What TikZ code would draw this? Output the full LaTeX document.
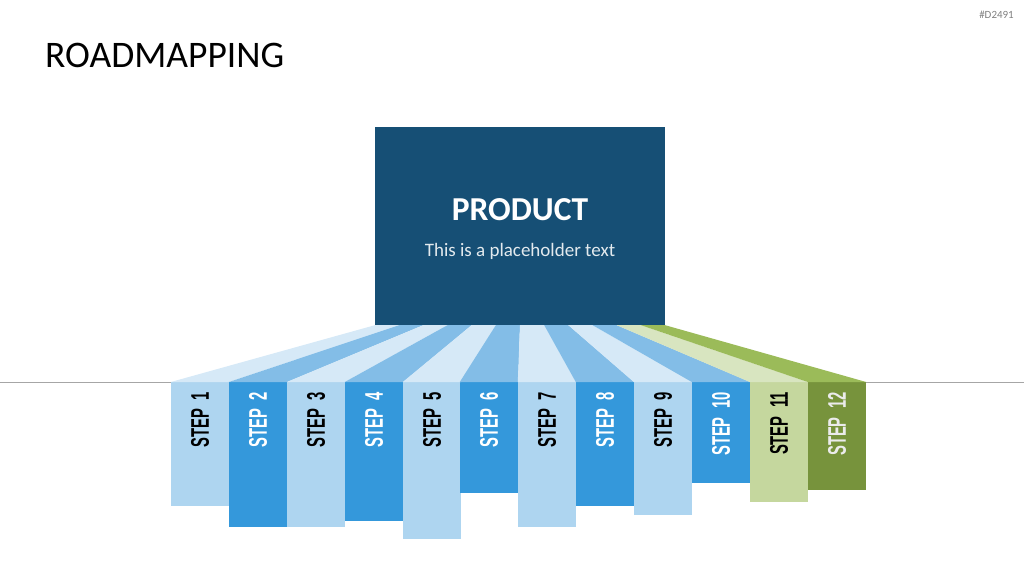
\documentclass[tikz,border=0pt]{standalone}
\usepackage{fontspec}
\setmainfont{Carlito}
\newfontfamily\stepfont[FakeStretch=0.58, WordSpace=0.55]{Liberation Sans}
\usetikzlibrary{calc}
\definecolor{prodBlue}{RGB}{22,79,117}
\definecolor{barLight}{RGB}{174,213,240}
\definecolor{barDark}{RGB}{52,152,219}
\definecolor{fanLight}{RGB}{214,233,247}
\definecolor{fanDark}{RGB}{131,189,231}
\definecolor{barGreenLight}{RGB}{197,215,158}
\definecolor{barGreenDark}{RGB}{119,147,60}
\definecolor{fanGreenLight}{RGB}{216,229,192}
\definecolor{fanGreenDark}{RGB}{155,187,89}
\tikzset{
  prodbox/.style={rectangle, fill=prodBlue, minimum width=290pt,
                  minimum height=198pt, inner sep=0pt},
  stepbar/.style={rectangle, rotate=90, anchor=east, minimum height=58pt,
                  inner xsep=10pt, inner ysep=0pt, align=right,
                  font=\stepfont\bfseries\fontsize{25.5}{25.5}\selectfont},
  steplight/.style={stepbar, fill=barLight, text=black},
  stepdark/.style={stepbar, fill=barDark, text=white},
  stepgreenlight/.style={stepbar, fill=barGreenLight, text=black},
  stepgreendark/.style={stepbar, fill=barGreenDark, text=white!92!black},
  baseline/.style={draw=gray!70, line width=0.8pt},
}

\begin{document}
\begin{tikzpicture}[x=1pt, y=-1pt]
  \useasboundingbox (0,0) rectangle (1024,576);

  % header
  \node[anchor=base west, inner sep=0pt, font=\fontsize{37.5}{37.5}\selectfont] (title) at (45,67) {ROADMAPPING};
  \node[anchor=base east, inner sep=0pt, text=gray, font=\fontsize{11}{11}\selectfont] (code) at (1014,18) {\#D2491};

  % ground line
  \draw[baseline] (0,382) -- (1024,382);

  % product
  \node[prodbox] (prod) at (520,226) {};
  \node[anchor=base, inner sep=0pt, text=white, font=\fontsize{33.5}{33.5}\selectfont\bfseries] (ptitle) at (520,220) {PRODUCT};
  \node[anchor=base, inner sep=0pt, text=white!88!prodBlue, font=\fontsize{19}{19}\selectfont] (psub) at (520,256) {This is a placeholder text};

  % steps
  \node[steplight, text width=104pt] (s1) at (200,382) {STEP 1};
  \node[stepdark, text width=125pt] (s2) at (258,382) {STEP 2};
  \node[steplight, text width=125pt] (s3) at (316,382) {STEP 3};
  \node[stepdark, text width=119pt] (s4) at (374,382) {STEP 4};
  \node[steplight, text width=137pt] (s5) at (432,382) {STEP 5};
  \node[stepdark, text width=91pt] (s6) at (489,382) {STEP 6};
  \node[steplight, text width=125pt] (s7) at (547,382) {STEP 7};
  \node[stepdark, text width=104pt] (s8) at (605,382) {STEP 8};
  \node[steplight, text width=113pt] (s9) at (663,382) {STEP 9};
  \node[stepdark, text width=81pt] (s10) at (721,382) {STEP 10};
  \node[stepgreenlight, text width=100pt] (s11) at (779,382) {STEP 11};
  \node[stepgreendark, text width=88pt] (s12) at (837,382) {STEP 12};

  % fans from product to steps
  \foreach \i/\f in {1/fanLight,2/fanDark,3/fanLight,4/fanDark,5/fanLight,6/fanDark,
                     7/fanLight,8/fanDark,9/fanLight,10/fanDark,11/fanGreenLight,12/fanGreenDark}
    \fill[\f] ($(prod.south west)!{(\i-1)/12}!(prod.south east)$)
      -- ($(prod.south west)!{\i/12}!(prod.south east)$)
      -- (s\i.south east) -- (s\i.north east) -- cycle;
\end{tikzpicture}
\end{document}
